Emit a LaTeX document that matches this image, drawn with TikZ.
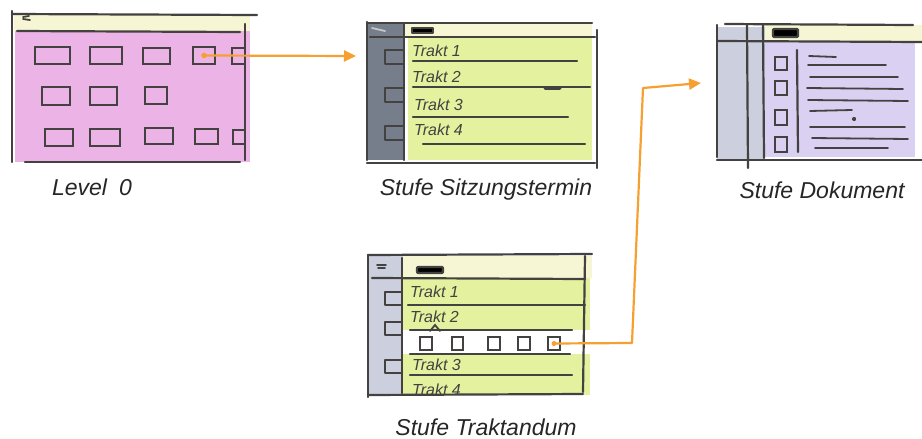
\documentclass[tikz,border=0pt]{standalone}
\usepackage{fontspec}
\setmainfont{Liberation Sans}
\usetikzlibrary{arrows.meta,fit}
\definecolor{ink}{RGB}{68,66,64}
\definecolor{hdr}{RGB}{246,246,212}
\definecolor{pinkfill}{RGB}{236,180,230}
\definecolor{greenfill}{RGB}{228,242,160}
\definecolor{darkside}{RGB}{118,126,140}
\definecolor{lightside}{RGB}{204,208,222}
\definecolor{lilac}{RGB}{218,208,242}
\definecolor{flow}{RGB}{246,160,50}
\tikzset{
  ink/.style={draw=ink, line width=2.2pt, line cap=round, line join=round},
  thin ink/.style={draw=ink, line width=1.8pt, line cap=round},
  sq/.style={draw=ink, line width=2pt, inner sep=0pt, rectangle},
  flowline/.style={draw=flow, line width=2.2pt, line cap=round, line join=round,
    -{Triangle[length=12pt,width=11pt]}},
  caption/.style={font=\fontsize{23}{26}\selectfont\itshape, text=black!85, inner sep=0pt},
  rowtext/.style={font=\fontsize{16}{18}\selectfont\itshape, text=ink, inner sep=0pt, anchor=west},
}
\begin{document}
\begin{tikzpicture}[x=1pt,y=-1pt]
\useasboundingbox (0,0) rectangle (922,439);
\fill[white] (0,0) rectangle (922,439);

% ---------- Level 0: tile overview ----------
\fill[hdr] (14,15) rectangle (250,31);
\fill[pinkfill] (15,31) rectangle (250,162);
\draw[ink] (12,14) -- (257,15);
\draw[ink] (12,11) -- (12,162);
\draw[ink] (17,31) -- (240,32);
\draw[ink] (245,24) -- (245,160);
\draw[ink] (25,162) -- (240,162);
\draw[thin ink] (23,17) -- (29,16) (23,19) -- (30,20);
% tiles
\node[sq, fit={(35,47) (70,64)}] (l0a) {};
\node[sq, fit={(90,47) (122,64)}] (l0b) {};
\node[sq, fit={(143,48) (170,64)}] (l0c) {};
\node[sq, fit={(193,47) (215,64)}] (l0d) {};
\node[sq, fit={(232,48) (245,64)}] (l0e) {};
\node[sq, fit={(42,87) (70,105)}] (l0f) {};
\node[sq, fit={(90,87) (117,105)}] (l0g) {};
\node[sq, fit={(145,87) (167,104)}] (l0h) {};
\node[sq, fit={(45,129) (73,146)}] (l0i) {};
\node[sq, fit={(90,129) (120,146)}] (l0j) {};
\node[sq, fit={(145,128) (173,144)}] (l0k) {};
\node[sq, fit={(195,129) (218,144)}] (l0l) {};
\node[sq, fit={(233,130) (245,144)}] (l0m) {};
\node[caption] (cap0) at (92,187) {Level\hspace{12pt}0};

% ---------- Stufe Sitzungstermin ----------
\fill[darkside] (367,23) rectangle (404,160);
\fill[hdr] (404,23) rectangle (592,37);
\fill[greenfill] (408,37) rectangle (592,160);
\draw[ink] (367,22) -- (367,160);
\draw[ink] (367,23) -- (592,23);
\draw[ink] (404,23) -- (404,160);
\draw[ink] (370,37) -- (595,37);
\draw[ink] (597,30) -- (597,168);
\draw[ink] (367,163) -- (595,163);
\fill[ink] (412,28) rectangle (433,33);
\draw[thin ink, draw=white!70!ink] (372,28) -- (385,31);
\draw[ink] (404,50) -| (385,64) -- (404,64);
\draw[ink] (404,88) -| (385,102) -- (404,102);
\draw[ink] (404,126) -| (385,140) -- (404,140);
\node[rowtext] (s1) at (412,51) {Trakt 1};
\draw[ink] (413,61) -- (577,61);
\node[rowtext] (s2) at (412,77) {Trakt 2};
\draw[ink] (413,87) -- (590,87);
\draw[ink, line width=3pt] (545,88) -- (560,88);
\node[rowtext] (s3) at (414,105) {Trakt 3};
\draw[ink] (413,117) -- (568,117);
\node[rowtext] (s4) at (414,130) {Trakt 4};
\draw[ink] (423,144) -- (585,144);
\node[caption] (cap1) at (486,190) {Stufe Sitzungstermin};

% ---------- Stufe Dokument ----------
\fill[lightside] (717,27) rectangle (765,160);
\fill[hdr] (765,25) rectangle (922,41);
\fill[lilac] (765,41) rectangle (915,157);
\draw[ink] (717,25) -- (717,157);
\draw[ink] (725,24) -- (913,25);
\draw[ink] (747,25) -- (748,168);
\draw[ink] (763,25) -- (764,158);
\draw[ink] (717,41) -- (922,42);
\draw[ink] (717,160) -- (922,160);
\draw[ink] (797,50) -- (798,152);
\fill[ink, rounded corners=1pt] (773,29) rectangle (798,37);
\node[sq, fit={(775,57) (787,70)}] (d1) {};
\node[sq, fit={(775,81) (787,95)}] (d2) {};
\node[sq, fit={(775,110) (787,125)}] (d3) {};
\node[sq, fit={(775,137) (787,152)}] (d4) {};
\draw[thin ink] (809,56) -- (836,57);
\draw[thin ink] (808,65) -- (886,65);
\draw[thin ink] (810,77) -- (898,77);
\draw[thin ink] (807,88) -- (903,89);
\draw[thin ink] (808,100) -- (908,101);
\draw[thin ink] (810,111) -- (852,110);
\fill[ink] (854,119) circle (1.2pt);
\draw[thin ink] (810,127) -- (905,127);
\draw[thin ink] (812,138) -- (908,139);
\draw[thin ink] (815,148) -- (888,148);
\node[caption] (cap2) at (822,190) {Stufe Dokument};

% ---------- Stufe Traktandum ----------
\fill[lightside] (368,255) rectangle (403,395);
\fill[hdr] (403,256) rectangle (592,278);
\fill[greenfill] (403,278) rectangle (590,330);
\fill[greenfill] (403,354) rectangle (590,395);
\draw[ink] (368,255) -- (592,254);
\draw[ink] (368,255) -- (368,397);
\draw[ink] (402,258) -- (402,393);
\draw[ink] (372,278) -- (585,279);
\draw[ink] (585,256) -- (583,392);
\fill[ink, rounded corners=1pt] (417,267) rectangle (443,273);
\draw[thin ink] (377,265) -- (386,265) (378,268) -- (385,268);
\draw[ink] (402,292) -| (385,305) -- (402,305);
\draw[ink] (402,322) -| (385,335) -- (402,335);
\draw[ink] (402,360) -| (385,373) -- (402,373);
\node[rowtext] (t1) at (410,292) {Trakt 1};
\draw[ink] (408,305) -- (585,305);
\node[rowtext] (t2) at (410,317) {Trakt 2};
\draw[ink] (410,330) -- (572,330);
\draw[thin ink] (430,331) -- (435,325) -- (440,331);
\node[sq, fit={(420,337) (432,350)}] (ta) {};
\node[sq, fit={(452,337) (463,350)}] (tb) {};
\node[sq, fit={(488,337) (500,350)}] (tc) {};
\node[sq, fit={(518,337) (530,350)}] (td) {};
\node[sq, fit={(548,337) (560,350)}] (te) {};
\draw[ink] (410,354) -- (570,354);
\node[rowtext] (t3) at (412,365) {Trakt 3};
\draw[ink] (410,375) -- (572,375);
\node[rowtext, anchor=base west] (t4) at (412,395) {Trakt 4};
\draw[ink] (368,395) -- (583,394);
\node[caption] (cap3) at (486,427) {Stufe Traktandum};

% ---------- navigation flow ----------
\fill[flow] (l0d.center) circle (2.8pt);
\coordinate (toSitzung) at (356,56);
\draw[flowline] (l0d.center) -- (toSitzung);

\fill[flow] (te.center) circle (2.5pt);
\coordinate (bend1) at (632,343);
\coordinate (bend2) at (643,88);
\coordinate (toDokument) at (701,83);
\draw[flowline] (te.center) -- (bend1) -- (bend2) -- (toDokument);
\end{tikzpicture}
\end{document}
